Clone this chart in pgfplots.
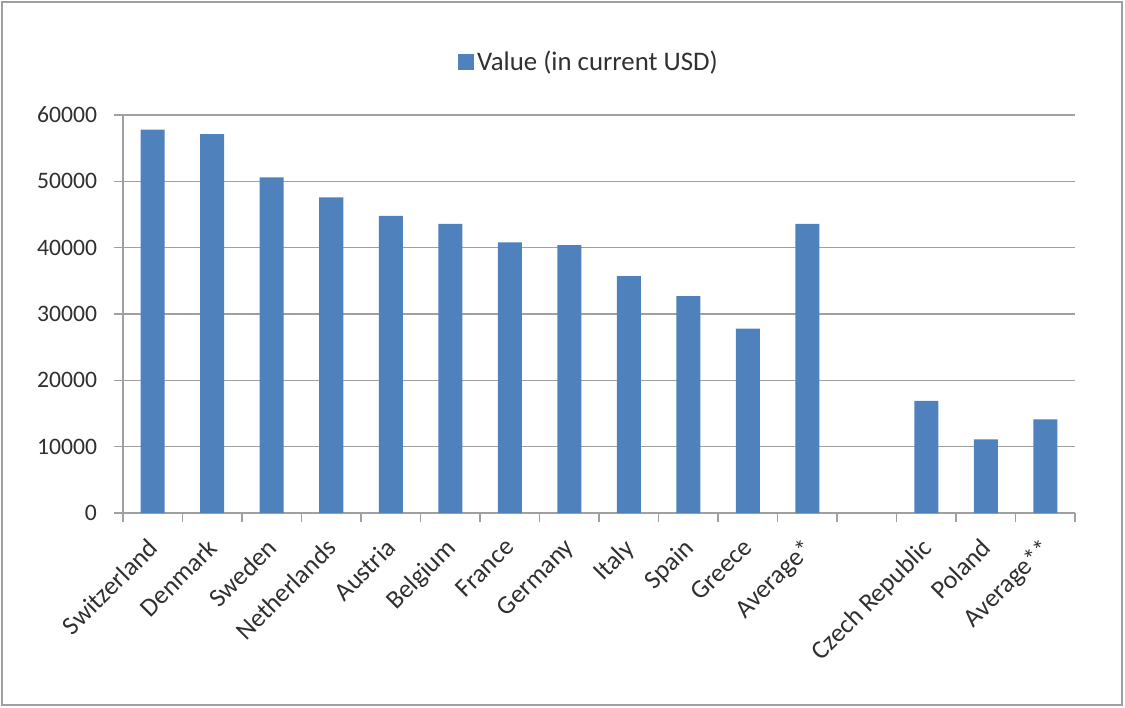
\documentclass[border=0pt]{standalone}
\usepackage{pgfplots}
\pgfplotsset{compat=1.18}
\usepackage{fontspec}
\setmainfont{Carlito}
\definecolor{barblue}{HTML}{4F81BD}
\definecolor{axgray}{HTML}{A0A0A0}
\definecolor{txt}{HTML}{303030}
\begin{document}
\begin{tikzpicture}
\useasboundingbox (-61.5bp,-97.5bp) rectangle (501bp,256.5bp);
\draw[axgray, line width=1bp] (-60.5bp,-96bp) rectangle (499.5bp,255.5bp);
\begin{axis}[
  scale only axis, width=476bp, height=199bp,
  xmin=-0.5, xmax=15.5, ymin=0, ymax=60000,
  axis x line*=bottom, axis y line*=left,
  axis line style={axgray, line width=0.8bp},
  ytick={0,10000,...,60000},
  scaled y ticks=false,
  yticklabel style={/pgf/number format/fixed, /pgf/number format/1000 sep={}, /pgf/number format/assume math mode=true,
    font=\fontsize{11.8bp}{13bp}\selectfont, text=txt, xshift=-5bp},
  ymajorgrids, grid style={axgray, line width=0.8bp},
  xtick={-0.5,0.5,...,15.5},
  xticklabels={,,,,,,,,,,,,,,,,},
  extra x ticks={0,1,...,15},
  extra x tick labels={Switzerland,Denmark,Sweden,Netherlands,Austria,Belgium,France,Germany,Italy,Spain,Greece,Average*,,Czech Republic,Poland,Average**},
  extra x tick style={major tick length=0pt},
  xticklabel style={xshift=-3bp, yshift=-7bp, rotate=45, anchor=north east, font=\fontsize{13bp}{14bp}\selectfont, text=txt},
  tick align=outside,
  major tick length=4.5bp,
  tick style={axgray, line width=0.8bp},
  ybar, bar width=12bp,
  legend style={at={(0.49,1.133)}, anchor=center, draw=none, fill=none,
    font=\fontsize{13.4bp}{14bp}\selectfont, text=txt, nodes={inner xsep=1.5bp}},
  legend image code/.code={\fill[barblue] (0bp,-4bp) rectangle (8bp,4bp);},
]
\addplot[fill=barblue, draw=none] coordinates {
  (0,57800) (1,57100) (2,50600) (3,47600) (4,44800) (5,43600)
  (6,40800) (7,40400) (8,35700) (9,32700) (10,27800) (11,43600)
  (13,16900) (14,11100) (15,14100)
};
\addlegendentry{Value (in current USD)}
\end{axis}
\end{tikzpicture}
\end{document}
